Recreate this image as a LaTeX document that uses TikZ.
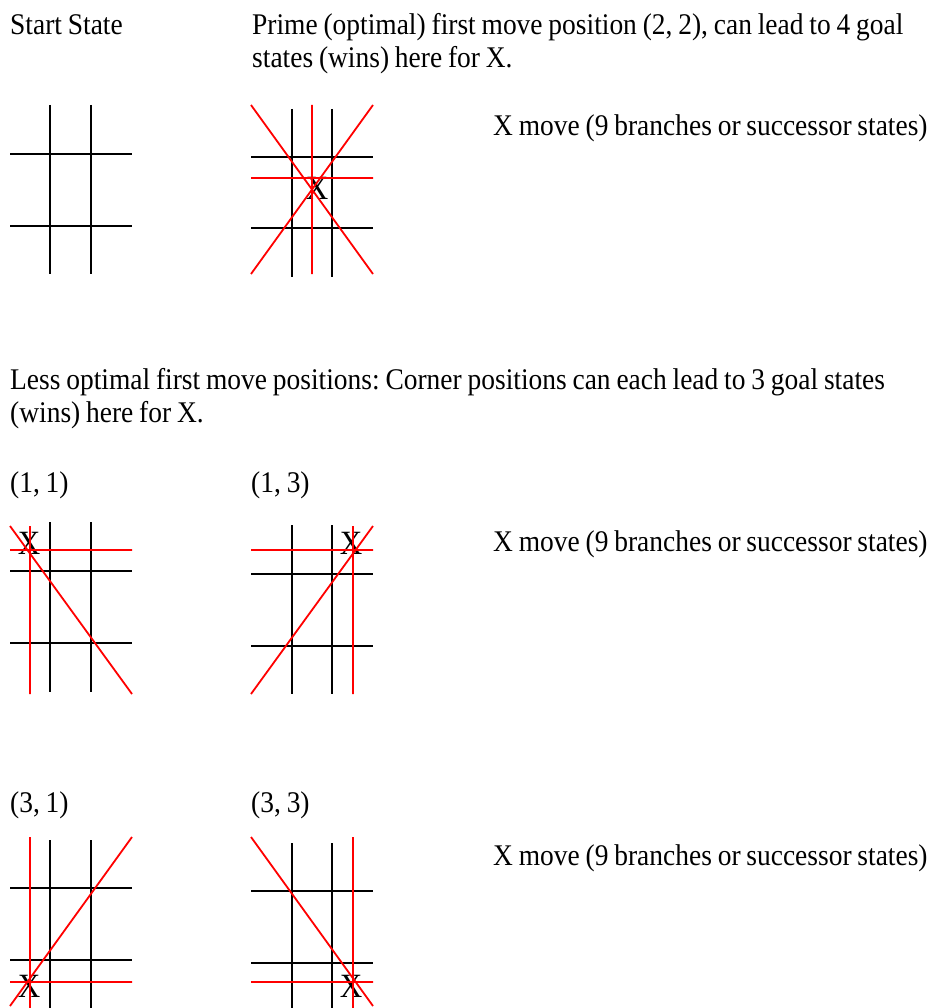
\documentclass[tikz,border=0pt]{standalone}
\usepackage{fontspec}
\setmainfont[FakeStretch=0.915,WordSpace=0.85]{Liberation Serif}
\frenchspacing
\begin{document}
\begin{tikzpicture}[x=1pt,y=-1pt,
  txt/.style={anchor=base west,inner sep=0pt,font=\fontsize{30}{33}\selectfont\frenchspacing},
  xmark/.style={inner sep=0pt,font=\fontsize{34}{36}\selectfont},
  blk/.style={draw=black,line width=2pt},
  redl/.style={draw=red,line width=1.8pt}]
\useasboundingbox[fill=white] (0,0) rectangle (929,1008);
% texts
\node[txt] (t1) at (10,35) {Start State};
\node[txt] (t2) at (252,35) {Prime (optimal) first move position (2, 2), can lead to 4 goal};
\node[txt] (t3) at (252,68) {states (wins) here for X.};
\node[txt] (m1) at (493,136) {X move (9 branches or successor states)};
\node[txt] (t4) at (10,389) {Less optimal first move positions: Corner positions can each lead to 3 goal states};
\node[txt] (t5) at (10,422) {(wins) here for X.};
\node[txt] (l11) at (10,492) {(1, 1)};
\node[txt] (l13) at (251,492) {(1, 3)};
\node[txt] (m2) at (493,551) {X move (9 branches or successor states)};
\node[txt] (l31) at (10,812) {(3, 1)};
\node[txt] (l33) at (251,812) {(3, 3)};
\node[txt] (m3) at (493,865) {X move (9 branches or successor states)};
% grid 1: start state
\draw[blk] (50,105) -- (50,274) (91,105) -- (91,274) (10,154) -- (132,154) (10,226) -- (132,226);
% grid 2: centre
\draw[blk] (292,109) -- (292,277) (332,109) -- (332,277) (251,157) -- (373,157) (251,228) -- (373,228);
\node[xmark] (x22) at (317,188) {X};
\draw[redl] (312,105) -- (312,274) (251,178) -- (373,178) (251,105) -- (373,274) (373,105) -- (251,274);
% grid 3: (1,1)
\draw[blk] (50,522) -- (50,692) (91,522) -- (91,692) (10,571) -- (132,571) (10,643) -- (132,643);
\node[xmark] (x11) at (29,543) {X};
\draw[redl] (30,526) -- (30,694) (10,550) -- (132,550) (10,526) -- (132,694);
% grid 4: (1,3)
\draw[blk] (292,525) -- (292,694) (332,525) -- (332,694) (251,574) -- (373,574) (251,646) -- (373,646);
\node[xmark] (x13) at (351,543) {X};
\draw[redl] (353,526) -- (353,694) (251,550) -- (373,550) (373,526) -- (251,694);
% grid 5: (3,1)
\draw[blk] (50,840) -- (50,1008) (91,840) -- (91,1008) (10,888) -- (132,888) (10,960) -- (132,960);
\node[xmark] (x31) at (29,986) {X};
\draw[redl] (30,837) -- (30,1008) (10,982) -- (132,982) (132,837) -- (10,1006);
% grid 6: (3,3)
\draw[blk] (292,843) -- (292,1008) (332,843) -- (332,1008) (251,891) -- (373,891) (251,963) -- (373,963);
\node[xmark] (x33) at (351,986) {X};
\draw[redl] (353,837) -- (353,1008) (251,982) -- (373,982) (251,837) -- (373,1006);
\end{tikzpicture}
\end{document}
